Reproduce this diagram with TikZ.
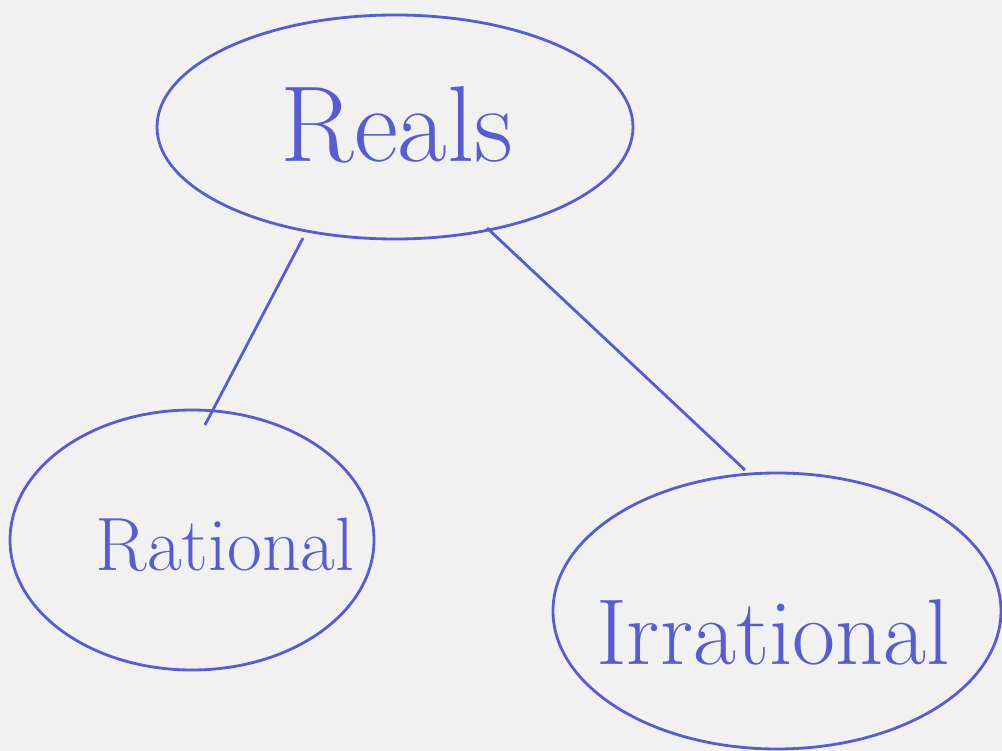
\documentclass[tikz,border=0pt]{standalone}
\begin{document}
\begin{tikzpicture}[x=1pt,y=-1pt,
  pen/.style={draw=penblue, line width=2.8pt},
  lbl/.style={text=penblue, font=\fontsize{72}{72}\selectfont, inner sep=0pt}]
\definecolor{penblue}{RGB}{88,92,205}
\definecolor{paper}{RGB}{241,241,241}
\fill[paper] (0,0) rectangle (1002,751);
\useasboundingbox (0,0) rectangle (1002,751);
\draw[pen] (395,127) ellipse [x radius=238, y radius=112];
\draw[pen] (192,540) ellipse [x radius=182, y radius=130];
\draw[pen] (777,611) ellipse [x radius=224, y radius=138];
\node[lbl, scale=1.5] (reals) at (397,125) {Reals};
\node[lbl, scale=1.05] (rat) at (225,545) {Rational};
\node[lbl, scale=1.3] (irr) at (773,632) {Irrational};
\coordinate (a1) at (303,238);
\coordinate (a2) at (205,425);
\coordinate (b1) at (487,228);
\coordinate (b2) at (745,470);
\draw[pen] (a1) -- (a2);
\draw[pen] (b1) -- (b2);
\end{tikzpicture}
\end{document}
